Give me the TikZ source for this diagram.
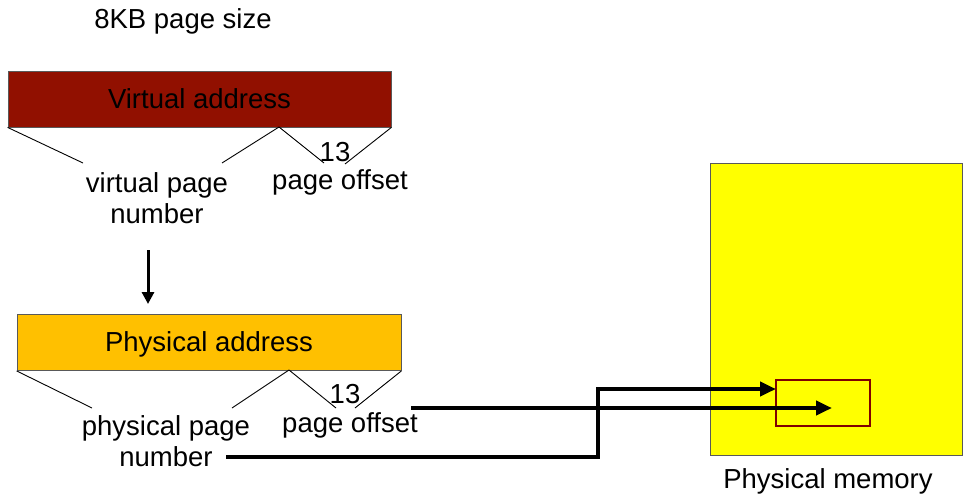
\documentclass[tikz,border=0pt]{standalone}
\usepackage{fontspec}
\setmainfont{Liberation Sans}
\usetikzlibrary{arrows.meta}
\definecolor{vred}{RGB}{145,16,0}
\definecolor{porange}{RGB}{255,192,0}
\definecolor{pmem}{RGB}{255,255,0}
\definecolor{frame}{RGB}{128,0,0}
\begin{document}
\begin{tikzpicture}[x=1pt,y=-1pt,
  lbl/.style={font=\fontsize{27.5}{31}\selectfont, inner sep=0pt, align=center},
  addr/.style={draw=gray!70!black, line width=0.8pt, minimum height=56pt, font=\fontsize{27.5}{31}\selectfont, text=black, text depth=0pt, text height=18pt, inner ysep=0pt},
  brace/.style={line width=0.9pt},
  thick arrow/.style={line width=4.5pt, -{Triangle[length=16pt,width=14pt]}},
  thick line/.style={line width=4.5pt}]
\useasboundingbox (0,0) rectangle (971,498);
% title
\node[lbl] (title) at (183,21) {8KB page size};
% virtual address
\node[addr, fill=vred, minimum width=383pt] (va) at (199.5,99) {Virtual address};
\coordinate (vsplit) at (279,127);
\draw[brace] (va.south west) -- (83,163);
\draw[brace] (vsplit) -- (222,163);
\draw[brace] (vsplit) -- (324,163);
\draw[brace] (va.south east) -- (345,164);
\node[lbl] (v13) at (335,152) {13};
\node[lbl] (vpn) at (157,198) {virtual page\\number};
\node[lbl] (vpo) at (340,182) {page offset};
% arrow down
\coordinate (a1) at (148,250);
\coordinate (a2) at (148,304);
\draw[line width=3pt, -{Triangle[length=12pt,width=12pt]}] (a1) -- (a2);
% physical address
\node[addr, fill=porange, minimum width=384pt] (pa) at (209,342.5) {Physical address};
\coordinate (psplit) at (289,370);
\draw[brace] (pa.south west) -- (92,408);
\draw[brace] (psplit) -- (232,408);
\draw[brace] (psplit) -- (336,408);
\draw[brace] (pa.south east) -- (355,408);
\node[lbl] (p13) at (345,394) {13};
\node[lbl] (ppn) at (166,441) {physical page\\number};
\node[lbl] (ppo) at (350,425) {page offset};
% physical memory
\node[draw=gray!70!black, line width=0.8pt, fill=pmem, minimum width=252pt, minimum height=292pt, inner sep=0pt] (mem) at (836,309) {};
\node[lbl] (memlbl) at (828,481) {Physical memory};
\node[draw=frame, line width=2.5pt, minimum width=94pt, minimum height=46pt, inner sep=0pt] (page) at (823,403) {};
% connectors
\coordinate (o1) at (411,408);
\coordinate (o2) at (832,408);
\draw[thick arrow] (o1) -- (o2);
\coordinate (n1) at (226,457);
\coordinate (n2) at (598,457);
\coordinate (n3) at (598,389);
\coordinate (n4) at (776,389);
\draw[thick arrow, line join=miter] (n1) -- (n2) -- (n3) -- (n4);
\end{tikzpicture}
\end{document}
